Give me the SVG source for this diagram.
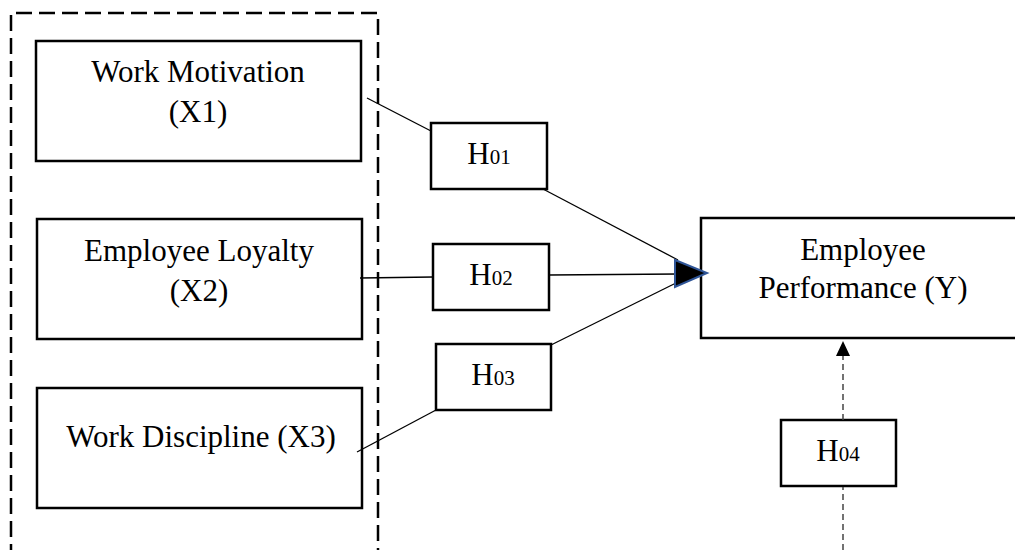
<svg xmlns="http://www.w3.org/2000/svg" width="1015" height="550" viewBox="0 0 1015 550">
<defs>
<style>
.box{fill:#fff;stroke:#000;stroke-width:2.5}
.t{font-family:"Liberation Serif","Times New Roman",serif;font-size:31px;fill:#000;text-anchor:middle}
.s{font-size:21px}
.ln{stroke:#000;stroke-width:1.3;fill:none}
</style>
<marker id="ah" markerWidth="16" markerHeight="14" refX="15" refY="7" orient="auto" markerUnits="userSpaceOnUse">
<path d="M0,0 L15,7 L0,14 Z" fill="#000"/>
</marker>
</defs>
<rect width="1015" height="550" fill="#fff"/>
<path d="M11,560 L11,13 L378,13 L378,560" fill="none" stroke="#000" stroke-width="2.5" stroke-dasharray="16,7"/>
<g id="x1">
<rect class="box" x="36" y="41" width="325" height="120"/>
<text class="t" x="198" y="82">Work Motivation</text>
<text class="t" x="198" y="122">(X1)</text>
</g>
<g id="x2">
<rect class="box" x="37" y="219" width="325" height="120"/>
<text class="t" x="199" y="261">Employee Loyalty</text>
<text class="t" x="199" y="301">(X2)</text>
</g>
<g id="x3">
<rect class="box" x="37" y="388" width="325" height="120"/>
<text class="t" x="201" y="447">Work Discipline (X3)</text>
</g>
<g id="y">
<rect class="box" x="701" y="218" width="325" height="120"/>
<text class="t" x="863" y="260">Employee</text>
<text class="t" x="863" y="298">Performance (Y)</text>
</g>
<g id="h01">
<rect class="box" x="431" y="123" width="116" height="66"/>
<text class="t" x="489" y="164">H<tspan class="s">01</tspan></text>
</g>
<g id="h02">
<rect class="box" x="433" y="244" width="116" height="66"/>
<text class="t" x="491" y="285">H<tspan class="s">02</tspan></text>
</g>
<g id="h03">
<rect class="box" x="436" y="344" width="115" height="66"/>
<text class="t" x="493" y="385">H<tspan class="s">03</tspan></text>
</g>
<g id="h04">
<rect class="box" x="781" y="420" width="115" height="66"/>
<text class="t" x="838" y="461">H<tspan class="s">04</tspan></text>
</g>
<g id="connectors">
<line class="ln" x1="367" y1="98" x2="431" y2="131"/>
<line class="ln" x1="543" y1="189" x2="678" y2="260"/>
<line class="ln" x1="360" y1="278" x2="433" y2="277"/>
<line class="ln" x1="549" y1="275" x2="678" y2="274"/>
<line class="ln" x1="357" y1="452" x2="436" y2="410"/>
<line class="ln" x1="551" y1="345" x2="678" y2="282"/>
<path d="M675,260 L707,273 L675,287 Z" fill="#000" stroke="#2f5597" stroke-width="2" stroke-linejoin="miter"/>
<line x1="843" y1="420" x2="843" y2="341" stroke="#444" stroke-width="1.5" stroke-dasharray="6,4" marker-end="url(#ah)"/>
<line x1="843" y1="560" x2="843" y2="487" stroke="#444" stroke-width="1.5" stroke-dasharray="6,4"/>
</g>
</svg>
